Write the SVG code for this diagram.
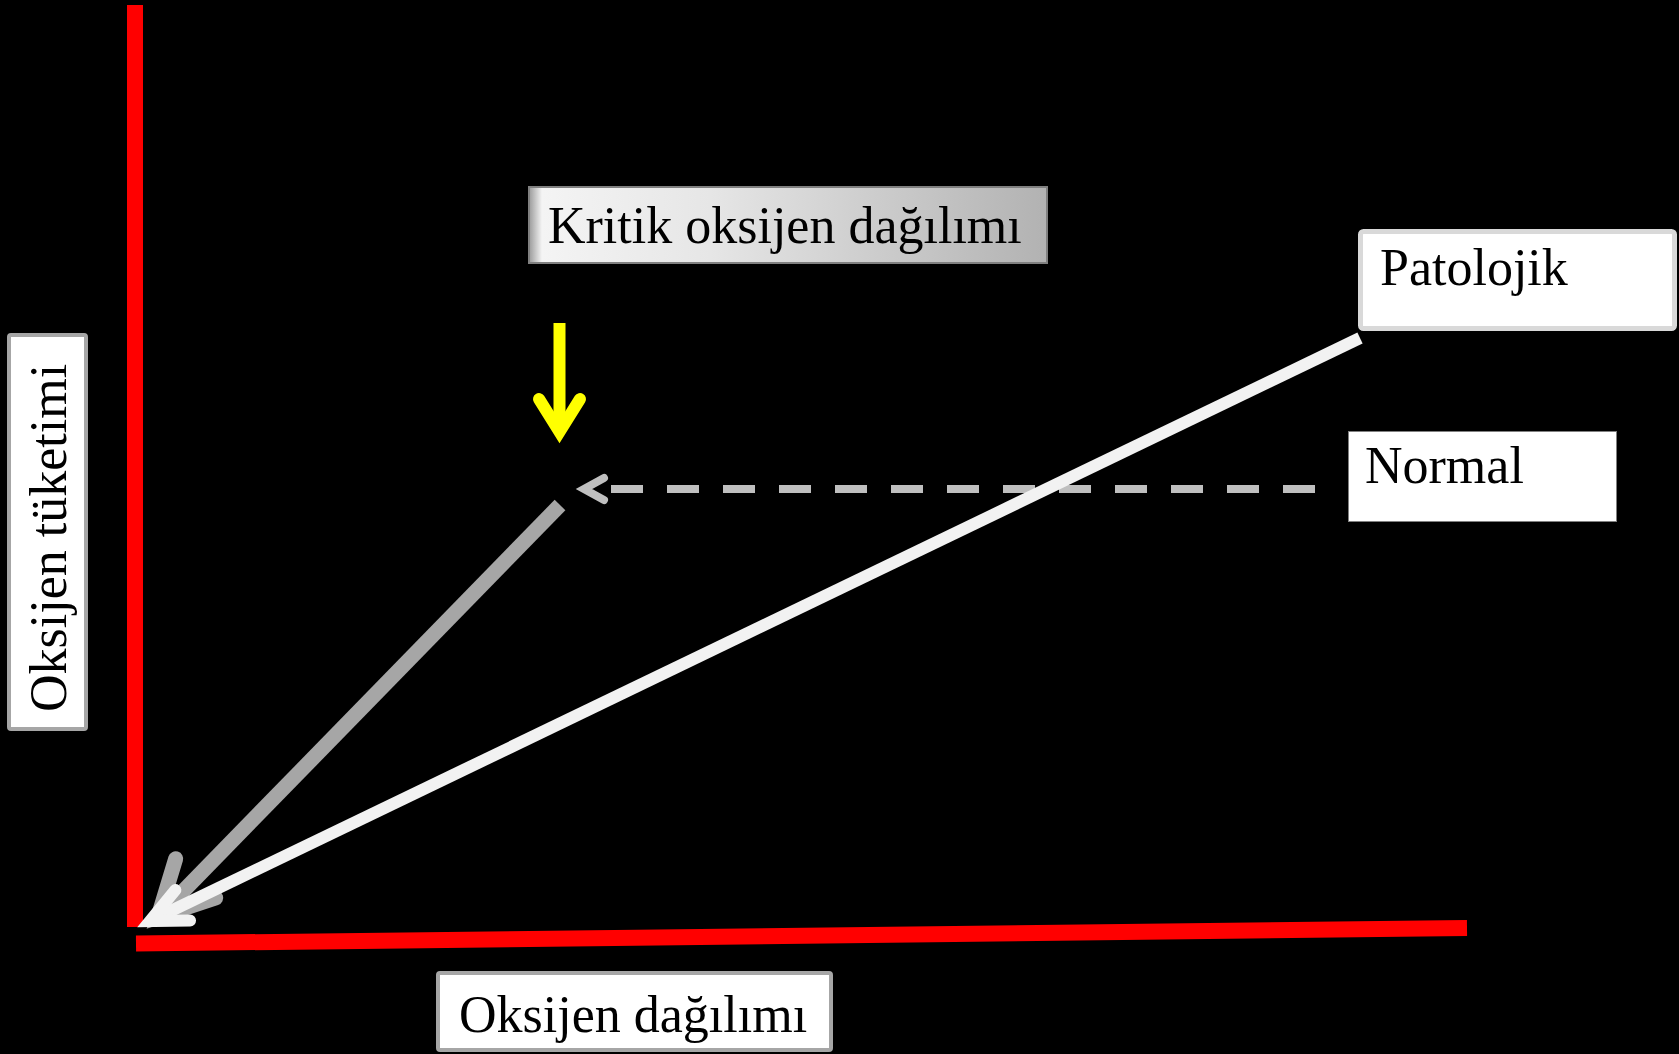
<svg xmlns="http://www.w3.org/2000/svg" width="1679" height="1054" viewBox="0 0 1679 1054">
<style>
.lbl{font-family:"Liberation Serif","Times New Roman",serif;font-size:52px;fill:#000}
.box{fill:#fff}
.axis{stroke:#ff0000;stroke-width:16;fill:none}
</style>
<defs>
<linearGradient id="gk" x1="0" y1="0" x2="1" y2="0">
<stop offset="0" stop-color="#9a9a9a"/>
<stop offset="0.025" stop-color="#f4f4f4"/>
<stop offset="0.35" stop-color="#e6e6e6"/>
<stop offset="1" stop-color="#b2b2b2"/>
</linearGradient>
<marker id="mWhite" markerUnits="userSpaceOnUse" orient="auto" refX="0" refY="0" markerWidth="1" markerHeight="1" overflow="visible">
<path d="M-36.3,-16.9 L0,0 L-36.3,16.9" fill="none" stroke="#f2f2f2" stroke-width="12" stroke-linejoin="miter" stroke-linecap="round"/>
</marker>
<marker id="mGray" markerUnits="userSpaceOnUse" orient="auto" refX="0" refY="0" markerWidth="1" markerHeight="1" overflow="visible">
<path d="M-54,-28 L0,0 L-54,28" fill="none" stroke="#a6a6a6" stroke-width="15" stroke-linejoin="miter" stroke-linecap="round"/>
</marker>
<marker id="mDash" markerUnits="userSpaceOnUse" orient="auto" refX="0" refY="0" markerWidth="1" markerHeight="1" overflow="visible">
<path d="M-20,-11 L0,0 L-20,11" fill="none" stroke="#bfbfbf" stroke-width="8" stroke-linejoin="miter" stroke-linecap="round"/>
</marker>
<marker id="mYellow" markerUnits="userSpaceOnUse" orient="auto" refX="0" refY="0" markerWidth="1" markerHeight="1" overflow="visible">
<path d="M-33,-20.5 L0,0 L-33,20.5" fill="none" stroke="#ffff00" stroke-width="12" stroke-linejoin="miter" stroke-linecap="round"/>
</marker>
</defs>
<rect x="0" y="0" width="1679" height="1054" fill="#000"/>
<g id="axes">
<line class="axis" x1="135" y1="5" x2="135" y2="927"/>
<line class="axis" x1="136" y1="943.5" x2="1467" y2="928"/>
</g>
<g id="connectors">
<path d="M1315,489 H584" fill="none" stroke="#bfbfbf" stroke-width="8" stroke-dasharray="32 24" marker-end="url(#mDash)"/>
<path d="M559.5,323 V432" fill="none" stroke="#ffff00" stroke-width="12" marker-end="url(#mYellow)"/>
<path d="M560,505 L158,917" fill="none" stroke="#a6a6a6" stroke-width="15" marker-end="url(#mGray)"/>
<path d="M1360,338 L150,921" fill="none" stroke="#f2f2f2" stroke-width="12" marker-end="url(#mWhite)"/>
</g>
<g id="kritik">
<rect x="529" y="187" width="518" height="76" fill="url(#gk)" stroke="#808080" stroke-width="2"/>
<text class="lbl" x="548" y="243">Kritik oksijen dağılımı</text>
</g>
<g id="patolojik">
<rect class="box" x="1360.5" y="231.5" width="314" height="97" rx="3" stroke="#d9d9d9" stroke-width="5"/>
<text class="lbl" x="1380" y="285">Patolojik</text>
</g>
<g id="normal">
<rect class="box" x="1348.5" y="431.5" width="268" height="90" stroke="#808080" stroke-width="1"/>
<text class="lbl" x="1365" y="483">Normal</text>
</g>
<g id="yaxis-label">
<rect class="box" x="9" y="335" width="77" height="394" rx="2" stroke="#a6a6a6" stroke-width="4"/>
<text class="lbl" transform="translate(66,712) rotate(-90)">Oksijen tüketimi</text>
</g>
<g id="xaxis-label">
<rect class="box" x="438" y="973" width="393" height="77" rx="2" stroke="#a6a6a6" stroke-width="4"/>
<text class="lbl" x="459" y="1032">Oksijen dağılımı</text>
</g>
</svg>
